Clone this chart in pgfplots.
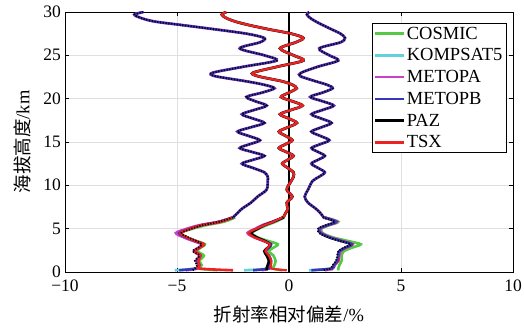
\documentclass[border=0pt]{standalone}
\usepackage{fontspec}
\setmainfont{Liberation Serif}
\newfontfamily\cjk{Noto Sans CJK SC}
\usepackage{pgfplots}
\usepackage{pgfplotstable}
\pgfplotsset{compat=1.18}
\definecolor{cCOS}{RGB}{85,200,70}
\definecolor{cKOM}{RGB}{95,210,220}
\definecolor{cMA}{RGB}{200,65,200}
\definecolor{cMB}{RGB}{55,55,185}
\definecolor{cTSX}{RGB}{235,35,35}
\newcommand\fs{\fontsize{17.5}{20}\selectfont}
\newcommand\fl{\fontsize{18.5}{20}\selectfont}

% shared upper part (all series overlap)
\pgfplotstableread{
y     L      M      R
30.0  -6.5   -2.8   0.9
29.7  -6.9   -3.0   0.8
29.3  -6.6   -2.8   0.95
28.9  -6.0   -2.4   1.2
28.5  -4.8   -1.8   1.5
28.0  -3.3   -0.9   1.9
27.5  -1.9    0.1   2.3
27.0  -1.1    0.64  2.5
26.5  -1.3    0.3   2.3
25.8  -2.2   -0.4   1.35
25.0  -1.1    0.2   1.8
24.4  -0.55   0.64  2.2
23.7  -2.0   -0.5   1.3
23.0  -3.4   -1.6   0.55
22.6  -3.3   -1.4   0.5
22.0  -1.9   -0.3   1.2
21.6  -1.1    0.15  1.7
21.2  -0.65   0.34  1.95
20.7  -1.2    0.0   1.5
20.2  -1.9   -0.35  0.95
19.7  -1.5    0.15  1.5
19.2  -1.0    0.6   2.0
18.7  -1.55   0.1   1.5
18.2  -2.1   -0.4   1.0
17.7  -1.6    0.0   1.45
17.2  -1.1    0.35  1.9
16.7  -1.7   -0.05  1.45
16.2  -2.3   -0.45  1.0
15.7  -1.8   -0.15  1.4
15.2  -1.3    0.15  1.8
14.75 -1.75  -0.15  1.4
14.3  -2.2   -0.45  1.0
13.85 -1.65  -0.12  1.3
13.4  -1.1    0.2   1.6
12.95 -1.6   -0.05  1.3
12.5  -2.1   -0.3   1.0
12.0  -1.6   -0.05  1.3
11.5  -1.1    0.2   1.6
11.0  -0.95   0.2   1.35
10.5  -0.95   0.1   1.05
9.5   -1.0   -0.1   0.85
8.7   -1.4    0.15  0.7
8.0   -1.7   -0.1   0.85
7.3   -2.1   -0.05  1.2
6.8   -2.3   -0.15  1.4
6.3   -2.5   -0.25  1.55
}\up

% lower parts, one column per series
\pgfplotstableread{
y    c      k      ma     mb     p      t
6.3  -2.4   -2.5   -2.5   -2.5   -2.5   -2.5
5.8  -2.9   -3.1   -3.15  -3.1   -3.1   -3.05
5.4  -3.7   -3.9   -4.0   -3.9   -3.85  -3.9
5.0  -4.3   -4.45  -4.55  -4.4   -4.35  -4.4
4.5  -4.85  -4.95  -5.05  -4.9   -4.8   -4.85
4.0  -4.6   -4.65  -4.7   -4.6   -4.5   -4.55
3.6  -4.15  -4.25  -4.3   -4.2   -4.15  -4.2
3.2  -3.75  -3.85  -3.9   -3.85  -3.9   -3.8
2.8  -3.95  -4.0   -4.05  -4.0   -4.05  -4.0
2.4  -4.1   -4.2   -4.25  -4.2   -4.3   -4.2
1.9  -3.8   -3.95  -4.0   -3.95  -4.0   -3.95
1.3  -4.0   -4.1   -4.15  -4.1   -4.2   -4.05
0.8  -3.9   -4.0   -4.05  -4.0   -4.1   -4.0
0.4  -4.0   -4.2   -4.1   -4.15  -4.2   -4.0
0.2  -3.2   -5.1   -4.6   -4.9   -4.3   -2.5
}\Llow
\pgfplotstableread{
y    c      k      ma     mb     p      t
6.3  -0.2   -0.25  -0.25  -0.25  -0.25  -0.3
5.8  -0.6   -0.7   -0.75  -0.7   -0.7   -0.7
5.4  -1.0   -1.1   -1.2   -1.1   -1.1   -1.1
5.0  -1.35  -1.4   -1.5   -1.4   -1.4   -1.45
4.5  -1.65  -1.75  -1.85  -1.75  -1.7   -1.8
4.0  -1.4   -1.5   -1.55  -1.5   -1.45  -1.55
3.6  -0.95  -1.1   -1.15  -1.1   -1.1   -1.15
3.2  -0.5   -0.8   -0.85  -0.8   -0.85  -0.85
2.8  -0.7   -0.9   -0.95  -0.9   -0.95  -0.95
2.4  -0.9   -1.05  -1.1   -1.05  -1.1   -1.05
1.9  -0.7   -0.9   -0.95  -0.9   -1.0   -0.9
1.3  -0.6   -0.8   -0.85  -0.8   -0.9   -0.8
0.8  -0.65  -0.85  -0.9   -0.85  -0.95  -0.8
0.4  -0.7   -0.9   -0.95  -0.9   -1.0   -0.8
0.2  -0.3   -2.0   -1.2   -1.6   -1.0   -0.1
}\Mlow
\pgfplotstableread{
y    c      k      ma     mb     p      t
6.3  1.6    1.55   1.55   1.55   1.5    1.55
5.8  2.2    2.1    2.15   2.1    2.05   2.1
5.4  1.8    1.7    1.75   1.7    1.65   1.7
5.0  1.45   1.35   1.4    1.35   1.3    1.35
4.5  1.5    1.4    1.45   1.4    1.35   1.4
4.0  1.95   1.8    1.85   1.8    1.75   1.8
3.6  2.6    2.3    2.35   2.3    2.25   2.3
3.2  3.2    2.8    2.85   2.8    2.75   2.8
2.8  2.8    2.5    2.55   2.5    2.45   2.5
2.4  2.45   2.25   2.3    2.25   2.2    2.25
1.9  2.35   2.2    2.25   2.2    2.15   2.2
1.3  2.35   2.2    2.2    2.15   2.1    2.2
0.8  2.25   2.0    2.05   2.0    1.95   2.0
0.4  2.2    1.9    1.95   1.9    1.85   1.9
0.2  2.2    0.9    1.6    1.0    1.5    1.9
}\Rlow

\begin{document}
\begin{tikzpicture}
\pgfplotsset{
  lw/.style={line width=2.6pt, smooth, forget plot},
  dots/.style={black, line width=1.8pt, smooth, dash pattern=on 1.2pt off 1.6pt, forget plot},
}
\begin{axis}[
  name=ax,
  width=448pt, height=260pt, scale only axis,
  xmin=-10, xmax=10, ymin=0, ymax=30,
  xtick={-10,-5,0,5,10},
  xticklabels={−10,−5,0,5,10},
  ytick={0,5,10,15,20,25,30},
  yticklabels={0,5,10,15,20,25,30},
  tick label style={font=\fs, inner sep=1pt},
  xticklabel style={yshift=-7pt, text height=11pt, text depth=0pt},
  yticklabel style={xshift=-3pt, text height=11pt, text depth=0pt},
  tick align=inside, major tick length=4pt,
  tick style={black, line width=0.6pt},
  grid=major,
  major grid style={gray!25, line width=0.6pt},
  axis line style={black, line width=0.9pt},
  xlabel={{\cjk 折射率相对偏差}/\%},
  ylabel={{\cjk 海拔高度}/km},
  label style={font=\fl},
  xlabel style={yshift=-10pt},
  ylabel style={yshift=8pt},
  legend style={at={(0.685,0.958)}, anchor=north west,
    font=\fl, draw=black, line width=0.8pt,
    inner sep=1.5pt, row sep=4pt, cells={anchor=west}},
  legend image code/.code={\draw[#1] (0cm,0cm) -- (1.0cm,0cm);},
  legend cell align=left,
]
\addlegendimage{cCOS, line width=2.6pt}\addlegendentry{COSMIC}
\addlegendimage{cKOM, line width=2.6pt}\addlegendentry{KOMPSAT5}
\addlegendimage{cMA, line width=2.6pt}\addlegendentry{METOPA}
\addlegendimage{cMB, line width=2.6pt}\addlegendentry{METOPB}
\addlegendimage{black, line width=2.6pt}\addlegendentry{PAZ}
\addlegendimage{cTSX, line width=2.6pt}\addlegendentry{TSX}

\addplot[black, line width=1.2pt, forget plot] coordinates {(0,0) (0,30)};

% lower parts
\addplot[cCOS, lw] table[x=c, y=y] {\Llow};
\addplot[cKOM, lw] table[x=k, y=y] {\Llow};
\addplot[cMA, lw] table[x=ma, y=y] {\Llow};
\addplot[cMB, lw] table[x=mb, y=y] {\Llow};
\addplot[cTSX, lw] table[x=t, y=y] {\Llow};
\addplot[dots] table[x=p, y=y] {\Llow};

\addplot[cCOS, lw] table[x=c, y=y] {\Rlow};
\addplot[cKOM, lw] table[x=k, y=y] {\Rlow};
\addplot[cMA, lw] table[x=ma, y=y] {\Rlow};
\addplot[cTSX, lw] table[x=t, y=y] {\Rlow};
\addplot[cMB, lw] table[x=mb, y=y] {\Rlow};
\addplot[dots] table[x=p, y=y] {\Rlow};

\addplot[cCOS, lw] table[x=c, y=y] {\Mlow};
\addplot[cKOM, lw] table[x=k, y=y] {\Mlow};
\addplot[cMA, lw] table[x=ma, y=y] {\Mlow};
\addplot[cMB, lw] table[x=mb, y=y] {\Mlow};
\addplot[black, lw] table[x=p, y=y] {\Mlow};
\addplot[cTSX, line width=2.2pt, smooth, forget plot] table[x=t, y=y] {\Mlow};

% upper parts (shared)
\addplot[cMA, line width=2.8pt, smooth, forget plot] table[x=L, y=y] {\up};
\addplot[cMB, line width=2.3pt, smooth, forget plot] table[x=L, y=y] {\up};
\addplot[dots] table[x=L, y=y] {\up};

\addplot[cMA, line width=2.8pt, smooth, forget plot] table[x=R, y=y] {\up};
\addplot[cMB, line width=2.3pt, smooth, forget plot] table[x=R, y=y] {\up};
\addplot[dots] table[x=R, y=y] {\up};

\addplot[black, line width=2.8pt, smooth, forget plot] table[x=M, y=y] {\up};
\addplot[cTSX, line width=2.3pt, smooth, forget plot] table[x=M, y=y] {\up};
\end{axis}
\path ([shift={(-65pt,-62pt)}]ax.south west) rectangle ([shift={(11pt,12pt)}]ax.north east);
\end{tikzpicture}
\end{document}
